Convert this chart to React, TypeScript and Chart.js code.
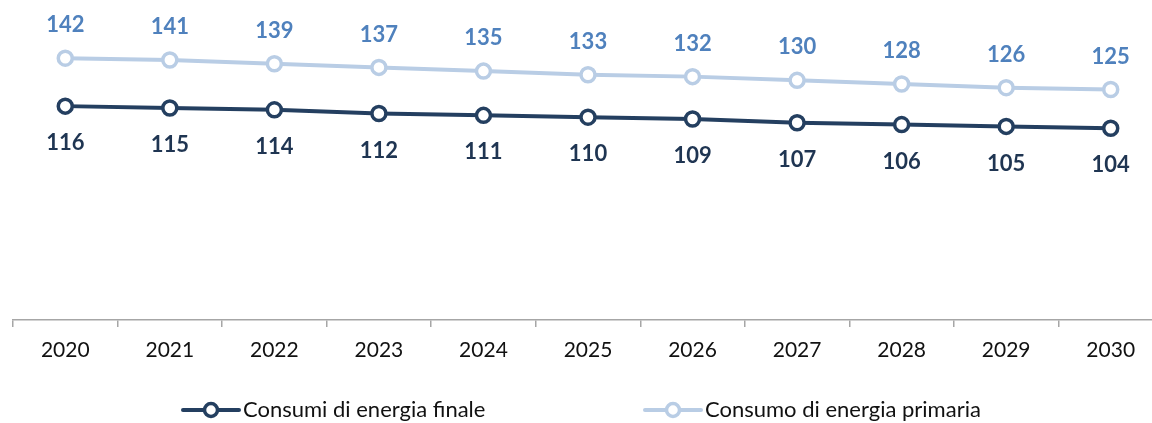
import React, { useEffect, useRef } from "react";
import { Chart, registerables } from "chart.js";

Chart.register(...registerables);

const years = ["2020", "2021", "2022", "2023", "2024", "2025", "2026", "2027", "2028", "2029", "2030"];
const finale = [116, 115, 114, 112, 111, 110, 109, 107, 106, 105, 104];
const primaria = [142, 141, 139, 137, 135, 133, 132, 130, 128, 126, 125];
const seriesNames = ["Consumi di energia finale", "Consumo di energia primaria"];

const DARK = "#243F60";
const LIGHT = "#B9CDE5";
const DARK_LABEL = "#1F3552";
const LIGHT_LABEL = "#4F81BD";
const FONT = "Lato, 'Open Sans', sans-serif";

const labelsPlugin = {
  id: "valueLabels",
  afterDatasetsDraw(chart: any) {
    const ctx = chart.ctx;
    ctx.save();
    ctx.font = `bold 22px ${FONT}`;
    ctx.textAlign = "center";
    ctx.textBaseline = "middle";
    chart.data.datasets.forEach((ds: any, i: number) => {
      const meta = chart.getDatasetMeta(i);
      meta.data.forEach((pt: any, j: number) => {
        const v = ds.data[j];
        if (i === 0) {
          ctx.fillStyle = DARK_LABEL;
          ctx.fillText(String(v), pt.x, pt.y + 37);
        } else {
          ctx.fillStyle = LIGHT_LABEL;
          ctx.fillText(String(v), pt.x, pt.y - 33);
        }
      });
    });
    ctx.restore();
  },
};

const legendPlugin = {
  id: "customLegend",
  afterDraw(chart: any) {
    const ctx = chart.ctx;
    ctx.save();
    ctx.font = `22px ${FONT}`;
    ctx.textBaseline = "middle";
    const y = 410;
    const items = [
      { x: 183, color: DARK, text: seriesNames[0] },
      { x: 645, color: LIGHT, text: seriesNames[1] },
    ];
    items.forEach((it) => {
      ctx.strokeStyle = it.color;
      ctx.lineWidth = 4;
      ctx.lineCap = "round";
      ctx.beginPath();
      ctx.moveTo(it.x, y);
      ctx.lineTo(it.x + 56, y);
      ctx.stroke();
      ctx.beginPath();
      ctx.arc(it.x + 28, y, 6.5, 0, Math.PI * 2);
      ctx.fillStyle = "#ffffff";
      ctx.fill();
      ctx.lineWidth = 3.5;
      ctx.stroke();
      ctx.fillStyle = "#111111";
      ctx.textAlign = "left";
      ctx.fillText(it.text, it.x + 60, y);
    });
    ctx.restore();
  },
};

export default function App() {
  const ref = useRef<HTMLCanvasElement | null>(null);
  useEffect(() => {
    if (!ref.current) return;
    const chart = new Chart(ref.current, {
      type: "line",
      data: {
        labels: years,
        datasets: [
          {
            label: seriesNames[0],
            data: finale,
            borderColor: DARK,
            backgroundColor: "#ffffff",
            borderWidth: 4,
            pointRadius: 7,
            pointBorderWidth: 3.5,
            pointBackgroundColor: "#ffffff",
            pointBorderColor: DARK,
            tension: 0,
          },
          {
            label: seriesNames[1],
            data: primaria,
            borderColor: LIGHT,
            backgroundColor: "#ffffff",
            borderWidth: 4,
            pointRadius: 7,
            pointBorderWidth: 3.5,
            pointBackgroundColor: "#ffffff",
            pointBorderColor: LIGHT,
            tension: 0,
          },
        ],
      },
      options: {
        responsive: false,
        animation: false,
        layout: { padding: { left: 13, right: 12, top: 25, bottom: 0 } },
        plugins: {
          legend: { display: false },
          tooltip: { enabled: false },
        },
        scales: {
          y: { display: false, min: 0, max: 160 },
          x: {
            offset: true,
            afterFit(scale: any) {
              scale.height = 103;
            },
            border: { display: true, color: "#A6A6A6", width: 1.5 },
            grid: {
              display: true,
              offset: true,
              drawOnChartArea: false,
              drawTicks: true,
              tickLength: 7,
              color: "#A6A6A6",
              lineWidth: 1.5,
            },
            ticks: {
              color: "#111111",
              font: { family: FONT, size: 21 },
              padding: 11,
              maxRotation: 0,
              autoSkip: false,
            },
          },
        },
      },
      plugins: [labelsPlugin, legendPlugin],
    });
    return () => chart.destroy();
  }, []);
  return (
    <div style={{ position: "absolute", left: 0, top: 0, width: 1152, height: 423, overflow: "hidden" }}>
      <canvas ref={ref} width={1175} height={423} style={{ width: 1175, height: 423, display: "block" }} />
    </div>
  );
}
